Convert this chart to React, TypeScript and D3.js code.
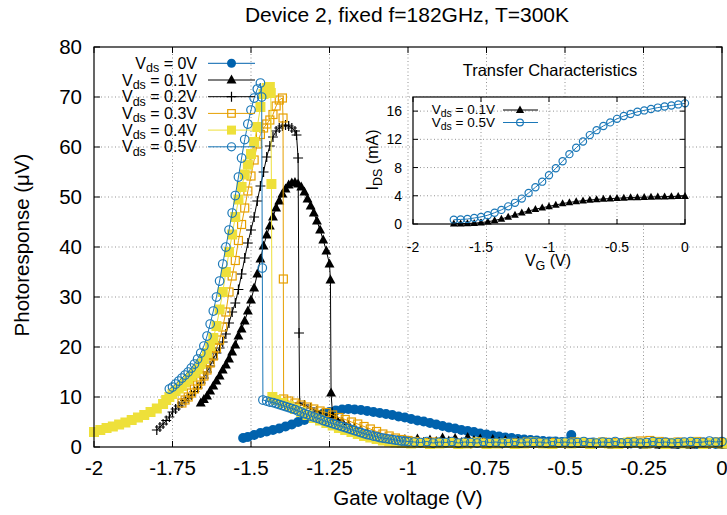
import React from 'react';
import * as d3 from 'd3';

type Pt = [number, number];

// Photoresponse (uV) vs gate voltage (V), one array per drain bias
const vds0: Pt[] = [
  [-1.525, 1.8], [-1.51, 2.0], [-1.49, 2.4], [-1.47, 2.8], [-1.45, 3.1], [-1.43, 3.4], [-1.41, 3.7], [-1.39, 4.1],
  [-1.37, 4.5], [-1.35, 5.0], [-1.33, 5.4], [-1.31, 5.8], [-1.29, 6.3], [-1.27, 6.7], [-1.25, 7.0], [-1.23, 7.3],
  [-1.21, 7.5], [-1.19, 7.6], [-1.17, 7.5], [-1.15, 7.4], [-1.13, 7.2], [-1.11, 7.0], [-1.09, 6.8], [-1.07, 6.6],
  [-1.05, 6.4], [-1.03, 6.1], [-1.01, 5.9], [-0.99, 5.6], [-0.97, 5.3], [-0.95, 5.1], [-0.93, 4.8], [-0.91, 4.5],
  [-0.89, 4.2], [-0.87, 3.9], [-0.85, 3.7], [-0.83, 3.4], [-0.81, 3.2], [-0.79, 3.0], [-0.77, 2.7], [-0.75, 2.5],
  [-0.73, 2.3], [-0.71, 2.1], [-0.69, 1.9], [-0.67, 1.8], [-0.65, 1.6], [-0.63, 1.5], [-0.61, 1.4], [-0.59, 1.3],
  [-0.57, 1.2], [-0.55, 1.1], [-0.53, 1.1], [-0.51, 1.0], [-0.49, 1.0], [-0.48, 2.4], [-0.47, 1.0], [-0.44, 0.9],
  [-0.41, 0.9], [-0.38, 0.8], [-0.35, 0.8], [-0.32, 0.8], [-0.29, 0.7], [-0.26, 0.7], [-0.23, 0.7], [-0.2, 0.7],
  [-0.17, 0.7], [-0.14, 0.6], [-0.11, 0.6], [-0.08, 0.6], [-0.05, 0.6], [-0.02, 0.6], [0, 0.6],
];

const vds01: Pt[] = [
  [-1.66, 8.8], [-1.65, 9.5], [-1.64, 10.2], [-1.63, 11.2], [-1.62, 12.2], [-1.61, 13.2], [-1.6, 14.2], [-1.59, 15.4],
  [-1.58, 16.4], [-1.57, 17.6], [-1.56, 19.0], [-1.55, 20.4], [-1.54, 22.2], [-1.53, 23.6], [-1.52, 25.2], [-1.51, 27.2],
  [-1.5, 29.4], [-1.49, 31.8], [-1.48, 34.6], [-1.47, 37.6], [-1.46, 40.2], [-1.45, 42.4], [-1.44, 44.2], [-1.43, 46.0],
  [-1.42, 47.8], [-1.41, 49.2], [-1.4, 50.6], [-1.39, 51.6], [-1.38, 52.4], [-1.37, 52.8], [-1.36, 52.9], [-1.35, 52.6],
  [-1.34, 52.0], [-1.33, 51.0], [-1.32, 49.6], [-1.31, 48.2], [-1.3, 46.8], [-1.29, 45.2], [-1.28, 43.4], [-1.27, 41.4],
  [-1.26, 39.2], [-1.25, 36.6], [-1.247, 33.4], [-1.245, 10.8], [-1.24, 6.2], [-1.23, 5.8], [-1.21, 5.0], [-1.19, 4.4],
  [-1.17, 3.8], [-1.15, 3.3], [-1.13, 2.8], [-1.11, 2.4], [-1.09, 2.0], [-1.07, 1.7], [-1.05, 1.5], [-1.03, 1.3],
  [-1.01, 1.5], [-0.99, 1.0], [-0.97, 1.6], [-0.95, 0.9], [-0.93, 1.4], [-0.91, 1.1], [-0.89, 1.8], [-0.87, 1.2],
  [-0.85, 1.7], [-0.83, 0.9], [-0.81, 1.9], [-0.79, 1.3], [-0.77, 1.6], [-0.75, 0.8], [-0.73, 1.5], [-0.71, 1.0],
  [-0.69, 1.3], [-0.67, 0.7], [-0.65, 1.1], [-0.62, 0.6], [-0.58, 0.8], [-0.54, 0.5], [-0.5, 0.6], [-0.45, 0.5],
  [-0.4, 0.5], [-0.35, 0.4], [-0.3, 0.5], [-0.25, 0.4], [-0.2, 0.4], [-0.15, 0.4], [-0.1, 0.4], [-0.05, 0.4], [0, 0.4],
];

const vds02: Pt[] = [
  [-1.8, 3.4], [-1.79, 4.0], [-1.78, 4.6], [-1.77, 5.3], [-1.76, 6.0], [-1.75, 7.0], [-1.74, 7.6], [-1.73, 8.2],
  [-1.72, 8.8], [-1.71, 9.3], [-1.7, 9.8], [-1.69, 10.4], [-1.68, 11.1], [-1.67, 11.8], [-1.66, 12.8], [-1.65, 13.8],
  [-1.64, 15.0], [-1.63, 16.2], [-1.62, 17.6], [-1.61, 18.8], [-1.6, 19.8], [-1.59, 21.0], [-1.58, 22.6], [-1.57, 24.8],
  [-1.56, 27.0], [-1.55, 28.8], [-1.54, 31.5], [-1.53, 34.6], [-1.52, 37.8], [-1.51, 40.8], [-1.5, 43.4], [-1.49, 46.0],
  [-1.48, 49.2], [-1.47, 52.2], [-1.46, 55.0], [-1.45, 58.0], [-1.44, 60.2], [-1.43, 62.0], [-1.42, 63.2], [-1.41, 63.8],
  [-1.4, 64.2], [-1.39, 64.4], [-1.38, 64.2], [-1.37, 63.8], [-1.36, 63.2], [-1.355, 62.4], [-1.35, 57.8], [-1.347, 22.8],
  [-1.345, 8.8], [-1.33, 8.4], [-1.31, 7.8], [-1.29, 7.2], [-1.27, 6.6], [-1.25, 6.0], [-1.23, 5.4], [-1.21, 4.8],
  [-1.19, 4.2], [-1.17, 3.7], [-1.15, 3.2], [-1.13, 2.7], [-1.11, 2.3], [-1.09, 1.9], [-1.07, 1.6], [-1.05, 1.3],
  [-1.03, 1.1], [-1.0, 1.0], [-0.95, 0.9], [-0.9, 0.8], [-0.85, 0.8], [-0.8, 0.7], [-0.7, 0.7], [-0.6, 0.6],
  [-0.5, 0.6], [-0.4, 0.6], [-0.3, 0.6], [-0.2, 0.6], [-0.1, 0.6], [0, 0.6],
];

const vds03: Pt[] = [
  [-1.72, 8.8], [-1.71, 9.4], [-1.7, 10.0], [-1.69, 10.8], [-1.68, 11.6], [-1.67, 12.4], [-1.66, 13.2], [-1.65, 14.2],
  [-1.64, 15.4], [-1.63, 16.8], [-1.62, 18.2], [-1.61, 19.8], [-1.6, 21.4], [-1.59, 24.0], [-1.58, 27.0], [-1.57, 31.0],
  [-1.56, 34.2], [-1.55, 37.3], [-1.54, 41.3], [-1.53, 44.5], [-1.52, 47.8], [-1.51, 51.2], [-1.5, 54.2], [-1.49, 57.4],
  [-1.48, 60.6], [-1.47, 62.5], [-1.46, 63.8], [-1.45, 64.6], [-1.44, 65.4], [-1.43, 66.5], [-1.42, 68.2], [-1.41, 69.4],
  [-1.4, 69.8], [-1.398, 65.8], [-1.397, 33.6], [-1.396, 9.6], [-1.38, 9.2], [-1.36, 8.8], [-1.34, 8.4], [-1.32, 8.0],
  [-1.3, 7.6], [-1.28, 7.2], [-1.26, 6.9], [-1.24, 6.4], [-1.22, 5.9], [-1.2, 5.5], [-1.18, 5.0], [-1.16, 4.6],
  [-1.14, 4.1], [-1.12, 3.6], [-1.1, 3.1], [-1.08, 2.6], [-1.06, 2.2], [-1.04, 1.8], [-1.02, 1.5], [-1.0, 1.3],
  [-0.98, 1.1], [-0.95, 0.9], [-0.92, 1.0], [-0.89, 0.8], [-0.86, 0.9], [-0.83, 0.7], [-0.8, 0.9], [-0.77, 1.0],
  [-0.74, 0.8], [-0.71, 0.7], [-0.68, 0.9], [-0.65, 0.8], [-0.62, 1.0], [-0.59, 0.8], [-0.56, 0.7], [-0.53, 0.9],
  [-0.5, 0.8], [-0.47, 1.0], [-0.44, 0.9], [-0.41, 0.8], [-0.38, 1.0], [-0.35, 0.9], [-0.32, 0.8], [-0.29, 1.1],
  [-0.26, 1.2], [-0.23, 1.3], [-0.2, 1.1], [-0.17, 0.9], [-0.14, 1.0], [-0.11, 0.8], [-0.08, 1.1], [-0.05, 0.9],
  [-0.02, 1.0], [0, 0.9],
];

const vds04: Pt[] = [
  [-2.0, 3.0], [-1.98, 3.4], [-1.96, 3.8], [-1.94, 4.1], [-1.92, 4.5], [-1.9, 4.9], [-1.88, 5.4], [-1.86, 5.9],
  [-1.84, 6.4], [-1.82, 7.0], [-1.8, 7.7], [-1.78, 8.6], [-1.77, 9.4], [-1.76, 10.0], [-1.75, 10.6], [-1.74, 11.2],
  [-1.73, 11.7], [-1.72, 12.2], [-1.71, 12.9], [-1.7, 13.6], [-1.69, 14.2], [-1.68, 14.8], [-1.67, 15.6], [-1.66, 16.6],
  [-1.65, 17.6], [-1.64, 18.8], [-1.63, 20.2], [-1.62, 21.8], [-1.61, 24.2], [-1.6, 27.5], [-1.59, 31.0], [-1.58, 35.0],
  [-1.57, 39.0], [-1.56, 42.5], [-1.55, 46.0], [-1.54, 49.5], [-1.53, 52.0], [-1.52, 54.5], [-1.51, 56.5], [-1.5, 58.6],
  [-1.49, 61.0], [-1.48, 64.0], [-1.47, 68.0], [-1.46, 70.6], [-1.45, 71.8], [-1.44, 72.0], [-1.437, 70.8], [-1.435, 52.6],
  [-1.432, 10.0], [-1.42, 9.4], [-1.4, 8.8], [-1.38, 8.2], [-1.36, 7.6], [-1.34, 7.0], [-1.32, 6.4], [-1.3, 5.8],
  [-1.28, 5.3], [-1.26, 4.8], [-1.24, 4.3], [-1.22, 3.8], [-1.2, 3.4], [-1.18, 3.0], [-1.16, 2.6], [-1.14, 2.2],
  [-1.12, 1.9], [-1.1, 1.6], [-1.08, 1.3], [-1.06, 1.1], [-1.04, 0.9], [-1.02, 0.8], [-0.99, 0.7], [-0.96, 0.8],
  [-0.93, 0.6], [-0.9, 0.7], [-0.87, 0.8], [-0.84, 0.6], [-0.81, 0.7], [-0.78, 0.9], [-0.75, 0.6], [-0.72, 0.7],
  [-0.69, 0.8], [-0.66, 0.6], [-0.63, 0.7], [-0.6, 0.9], [-0.57, 0.7], [-0.54, 0.6], [-0.51, 0.8], [-0.48, 0.7],
  [-0.45, 0.9], [-0.42, 0.6], [-0.39, 0.8], [-0.36, 0.7], [-0.33, 0.6], [-0.3, 0.9], [-0.27, 0.8], [-0.24, 0.7],
  [-0.21, 0.9], [-0.18, 0.6], [-0.15, 0.8], [-0.12, 0.7], [-0.09, 0.9], [-0.06, 0.6], [-0.03, 0.8], [0, 0.7],
];

const vds05: Pt[] = [
  [-1.76, 11.6], [-1.75, 12.0], [-1.74, 12.6], [-1.73, 13.2], [-1.72, 13.8], [-1.71, 14.4], [-1.7, 15.0], [-1.69, 15.8],
  [-1.68, 16.6], [-1.67, 17.6], [-1.66, 18.8], [-1.65, 20.2], [-1.64, 22.2], [-1.63, 24.6], [-1.62, 27.2], [-1.61, 30.0],
  [-1.6, 33.2], [-1.59, 36.6], [-1.58, 40.0], [-1.57, 43.4], [-1.56, 46.8], [-1.55, 50.3], [-1.54, 54.0], [-1.53, 57.8],
  [-1.52, 61.5], [-1.51, 64.6], [-1.5, 67.4], [-1.49, 69.8], [-1.48, 71.6], [-1.47, 72.8], [-1.466, 70.0], [-1.464, 35.8],
  [-1.462, 9.4], [-1.45, 9.2], [-1.44, 9.0], [-1.43, 8.9], [-1.42, 8.7], [-1.41, 8.5], [-1.4, 8.3], [-1.39, 8.1],
  [-1.38, 7.9], [-1.37, 7.7], [-1.36, 7.5], [-1.35, 7.2], [-1.34, 7.0], [-1.33, 6.7], [-1.32, 6.5], [-1.31, 6.2],
  [-1.3, 6.0], [-1.29, 5.8], [-1.28, 5.6], [-1.27, 5.3], [-1.26, 5.1], [-1.25, 4.9], [-1.24, 4.7], [-1.23, 4.5],
  [-1.22, 4.3], [-1.21, 4.1], [-1.2, 3.9], [-1.19, 3.7], [-1.18, 3.5], [-1.17, 3.3], [-1.16, 3.1], [-1.15, 2.9],
  [-1.14, 2.7], [-1.13, 2.5], [-1.12, 2.4], [-1.11, 2.2], [-1.1, 2.1], [-1.09, 1.9], [-1.08, 1.8], [-1.07, 1.7],
  [-1.06, 1.6], [-1.05, 1.5], [-1.04, 1.4], [-1.03, 1.3], [-1.02, 1.2], [-1.01, 1.2], [-1.0, 1.1], [-0.98, 1.0],
  [-0.96, 0.9], [-0.94, 1.1], [-0.92, 0.8], [-0.9, 1.0], [-0.88, 0.9], [-0.86, 1.1], [-0.84, 0.8], [-0.82, 1.0],
  [-0.8, 0.9], [-0.78, 0.8], [-0.76, 1.1], [-0.74, 0.9], [-0.72, 1.0], [-0.7, 0.8], [-0.68, 0.9], [-0.66, 1.1],
  [-0.64, 0.8], [-0.62, 1.0], [-0.6, 0.9], [-0.58, 1.0], [-0.56, 0.8], [-0.54, 1.1], [-0.52, 0.9], [-0.5, 1.0],
  [-0.48, 0.8], [-0.46, 0.9], [-0.44, 1.1], [-0.42, 0.9], [-0.4, 0.8], [-0.38, 1.0], [-0.36, 0.9], [-0.34, 1.1],
  [-0.32, 0.8], [-0.3, 0.9], [-0.28, 1.0], [-0.26, 0.8], [-0.24, 0.9], [-0.22, 1.1], [-0.2, 0.9], [-0.18, 1.0],
  [-0.16, 0.8], [-0.14, 0.9], [-0.12, 1.0], [-0.1, 1.1], [-0.08, 0.9], [-0.06, 1.0], [-0.04, 1.2], [-0.02, 1.0], [0, 1.1],
];

const xTicks = [-2, -1.75, -1.5, -1.25, -1, -0.75, -0.5, -0.25, 0];
const xTickLabels = ['-2', '-1.75', '-1.5', '-1.25', '-1', '-0.75', '-0.5', '-0.25', '0'];
const yTicks = [0, 10, 20, 30, 40, 50, 60, 70, 80];

// inset: transfer characteristics, I_DS (mA) vs V_G (V)
const insetVg = [
  -1.7, -1.65, -1.6, -1.55, -1.5, -1.45, -1.4, -1.35, -1.3, -1.25, -1.2, -1.15, -1.1, -1.05, -1.0, -0.95, -0.9, -0.85,
  -0.8, -0.75, -0.7, -0.65, -0.6, -0.55, -0.5, -0.45, -0.4, -0.35, -0.3, -0.25, -0.2, -0.15, -0.1, -0.05, 0,
];
const insetId01 = [
  0.05, 0.05, 0.08, 0.12, 0.2, 0.32, 0.5, 0.72, 1.0, 1.3, 1.6, 1.85, 2.1, 2.3, 2.5, 2.7, 2.9, 3.05,
  3.2, 3.3, 3.4, 3.48, 3.55, 3.6, 3.65, 3.7, 3.75, 3.78, 3.8, 3.83, 3.86, 3.88, 3.9, 3.93, 3.95,
];
const insetId05 = [
  0.6, 0.65, 0.7, 0.85, 1.0, 1.25, 1.6, 2.0, 2.5, 3.0, 3.6, 4.4, 5.2, 6.0, 6.9, 7.9, 8.9, 9.9,
  10.8, 11.7, 12.6, 13.3, 13.9, 14.4, 14.9, 15.3, 15.6, 15.9, 16.1, 16.3, 16.5, 16.65, 16.8, 16.95, 17.1,
];
const insetXTicks = [-2, -1.5, -1, -0.5, 0];
const insetXTickLabels = ['-2', '-1.5', '-1', '-0.5', '0'];
const insetYTicks = [0, 4, 8, 12, 16];

const BLUE = '#0062ad';
const BLUE2 = '#1b78b8';
const ORANGE = '#e69f00';
const YELLOW = '#eee03a';

type MarkerKind = 'circleFilled' | 'triangle' | 'plus' | 'squareOpen' | 'squareFilled' | 'circleOpen';

const mainSeries: { label: string; data: Pt[]; color: string; marker: MarkerKind; size: number }[] = [
  { label: '0V', data: vds0, color: BLUE, marker: 'circleFilled', size: 10 },
  { label: '0.1V', data: vds01, color: '#000', marker: 'triangle', size: 9 },
  { label: '0.2V', data: vds02, color: '#000', marker: 'plus', size: 9 },
  { label: '0.3V', data: vds03, color: ORANGE, marker: 'squareOpen', size: 9.5 },
  { label: '0.4V', data: vds04, color: YELLOW, marker: 'squareFilled', size: 10 },
  { label: '0.5V', data: vds05, color: BLUE2, marker: 'circleOpen', size: 9.5 },
];

const FONT = '"Liberation Sans", Arial, Helvetica, sans-serif';

function marker(kind: MarkerKind, cx: number, cy: number, color: string, s: number, key?: React.Key) {
  switch (kind) {
    case 'circleFilled':
      return <circle key={key} cx={cx} cy={cy} r={s * 0.5} fill={color} />;
    case 'circleOpen':
      return <circle key={key} cx={cx} cy={cy} r={s * 0.45} fill="none" stroke={color} strokeWidth={1.2} />;
    case 'triangle':
      return (
        <path key={key} fill={color}
          d={`M${cx},${cy - s * 0.6}L${cx + s * 0.55},${cy + s * 0.4}L${cx - s * 0.55},${cy + s * 0.4}Z`} />
      );
    case 'plus':
      return (
        <path key={key} stroke={color} strokeWidth={1.2} fill="none"
          d={`M${cx - s * 0.55},${cy}H${cx + s * 0.55}M${cx},${cy - s * 0.55}V${cy + s * 0.55}`} />
      );
    case 'squareOpen':
      return (
        <rect key={key} x={cx - s * 0.42} y={cy - s * 0.42} width={s * 0.84} height={s * 0.84}
          fill="none" stroke={color} strokeWidth={1.2} />
      );
    case 'squareFilled':
      return <rect key={key} x={cx - s * 0.5} y={cy - s * 0.5} width={s} height={s} fill={color} />;
  }
}

const App: React.FC = () => {
  const W = 727;
  const H = 515;
  const x = d3.scaleLinear().domain([-2, 0]).range([94, 722]);
  const y = d3.scaleLinear().domain([0, 80]).range([447, 47]);
  const line = d3.line<Pt>().x(d => x(d[0])).y(d => y(d[1]));

  const xi = d3.scaleLinear().domain([-2, 0]).range([413, 685]);
  const yi = d3.scaleLinear().domain([0, 18]).range([224, 97]);
  const ins01: Pt[] = insetVg.map((v, i) => [v, insetId01[i]]);
  const ins05: Pt[] = insetVg.map((v, i) => [v, insetId05[i]]);
  const lineI = d3.line<Pt>().x(d => xi(d[0])).y(d => yi(d[1]));

  const [x0, x1] = x.range();
  const [y0, y1] = y.range();
  const [ix0, ix1] = xi.range();
  const [iy0, iy1] = yi.range();
  const grid = { stroke: '#777', strokeWidth: 0.8, strokeDasharray: '1,2.5' };
  const tick = 6;

  return (
    <svg width={W} height={H} style={{ position: 'absolute', left: 0, top: 0, background: '#fff' }}
      fontFamily={FONT}>
      <rect width={W} height={H} fill="#fff" />
      <text x={407} y={22} fontSize={21} textAnchor="middle">Device 2, fixed f=182GHz, T=300K</text>

      {/* main grid */}
      {xTicks.slice(1, -1).map(t => (
        <line key={'gx' + t} x1={x(t)} x2={x(t)} y1={y0} y2={y1} {...grid} />
      ))}
      {yTicks.slice(1, -1).map(t => (
        <line key={'gy' + t} x1={x0} x2={x1} y1={y(t)} y2={y(t)} {...grid} />
      ))}

      {/* main ticks + labels */}
      {xTicks.map((t, i) => (
        <g key={'tx' + t}>
          <line x1={x(t)} x2={x(t)} y1={y0} y2={y0 - tick} stroke="#000" />
          <line x1={x(t)} x2={x(t)} y1={y1} y2={y1 + tick} stroke="#000" />
          <text x={x(t)} y={475} fontSize={20.5} textAnchor="middle">{xTickLabels[i]}</text>
        </g>
      ))}
      {yTicks.map(t => (
        <g key={'ty' + t}>
          <line x1={x0} x2={x0 + tick} y1={y(t)} y2={y(t)} stroke="#000" />
          <line x1={x1} x2={x1 - tick} y1={y(t)} y2={y(t)} stroke="#000" />
          <text x={82} y={y(t) + 7} fontSize={20.5} textAnchor="end">{t}</text>
        </g>
      ))}
      <text x={408} y={505} fontSize={20.5} textAnchor="middle">Gate voltage (V)</text>
      <text transform="translate(29,245) rotate(-90)" fontSize={20.5} textAnchor="middle">Photoresponse (μV)</text>

      {/* series */}
      {mainSeries.map(s => (
        <g key={s.label}>
          <path d={line(s.data) ?? ''} fill="none" stroke={s.color} strokeWidth={1} />
          {s.data.map((d, i) => marker(s.marker, x(d[0]), y(d[1]), s.color, s.size, i))}
        </g>
      ))}

      {/* legend */}
      {mainSeries.map((s, i) => {
        const ly = 63.3 + i * 16.7;
        return (
          <g key={'lg' + s.label}>
            <text x={197} y={ly + 5.5} fontSize={16} textAnchor="end">
              V<tspan fontSize={12.5} dy={3.5}>ds</tspan><tspan dy={-3.5}> = {s.label}</tspan>
            </text>
            <line x1={208} x2={255} y1={ly} y2={ly} stroke={s.color} strokeWidth={1} />
            {marker(s.marker, 231.5, ly, s.color, 9)}
          </g>
        );
      })}

      <rect x={x0} y={y1} width={x1 - x0} height={y0 - y1} fill="none" stroke="#000" strokeWidth={1.2} />

      {/* inset */}
      <rect x={ix0} y={iy1} width={ix1 - ix0} height={iy0 - iy1} fill="#fff" />
      <text x={550} y={76} fontSize={16.5} textAnchor="middle">Transfer Characteristics</text>
      {insetXTicks.slice(1, -1).map(t => (
        <line key={'igx' + t} x1={xi(t)} x2={xi(t)} y1={iy0} y2={iy1} {...grid} />
      ))}
      {insetYTicks.slice(1).map(t => (
        <line key={'igy' + t} x1={ix0} x2={ix1} y1={yi(t)} y2={yi(t)} {...grid} />
      ))}
      {insetXTicks.map((t, i) => (
        <g key={'itx' + t}>
          <line x1={xi(t)} x2={xi(t)} y1={iy0} y2={iy0 - 5} stroke="#000" />
          <line x1={xi(t)} x2={xi(t)} y1={iy1} y2={iy1 + 5} stroke="#000" />
          <text x={xi(t)} y={252} fontSize={14} textAnchor="middle">{insetXTickLabels[i]}</text>
        </g>
      ))}
      {insetYTicks.map(t => (
        <g key={'ity' + t}>
          <line x1={ix0} x2={ix0 + 5} y1={yi(t)} y2={yi(t)} stroke="#000" />
          <line x1={ix1} x2={ix1 - 5} y1={yi(t)} y2={yi(t)} stroke="#000" />
          <text x={402} y={yi(t) + 5} fontSize={14} textAnchor="end">{t}</text>
        </g>
      ))}
      <text x={548} y={266} fontSize={16} textAnchor="middle">
        V<tspan fontSize={12.5} dy={4}>G</tspan><tspan dy={-4}> (V)</tspan>
      </text>
      <text transform="translate(378,160) rotate(-90)" fontSize={16} textAnchor="middle">
        I<tspan fontSize={12.5} dy={4}>DS</tspan><tspan dy={-4}> (mA)</tspan>
      </text>

      <path d={lineI(ins01) ?? ''} fill="none" stroke="#000" strokeWidth={1} />
      {ins01.map((d, i) => marker('triangle', xi(d[0]), yi(d[1]), '#000', 7, i))}
      <path d={lineI(ins05) ?? ''} fill="none" stroke={BLUE2} strokeWidth={1} />
      {ins05.map((d, i) => marker('circleOpen', xi(d[0]), yi(d[1]), BLUE2, 8, i))}

      {[{ label: '0.1V', color: '#000', kind: 'triangle' as MarkerKind },
        { label: '0.5V', color: BLUE2, kind: 'circleOpen' as MarkerKind }].map((s, i) => {
        const ly = 110 + i * 12.5;
        return (
          <g key={'ilg' + i}>
            <text x={495} y={ly + 4} fontSize={13.5} textAnchor="end">
              V<tspan fontSize={10.5} dy={3}>ds</tspan><tspan dy={-3}> = {s.label}</tspan>
            </text>
            <line x1={503} x2={538} y1={ly} y2={ly} stroke={s.color} strokeWidth={1} />
            {marker(s.kind, 520, ly, s.color, 7.5)}
          </g>
        );
      })}
      <rect x={ix0} y={iy1} width={ix1 - ix0} height={iy0 - iy1} fill="none" stroke="#000" strokeWidth={1.2} />
    </svg>
  );
};

export default App;
